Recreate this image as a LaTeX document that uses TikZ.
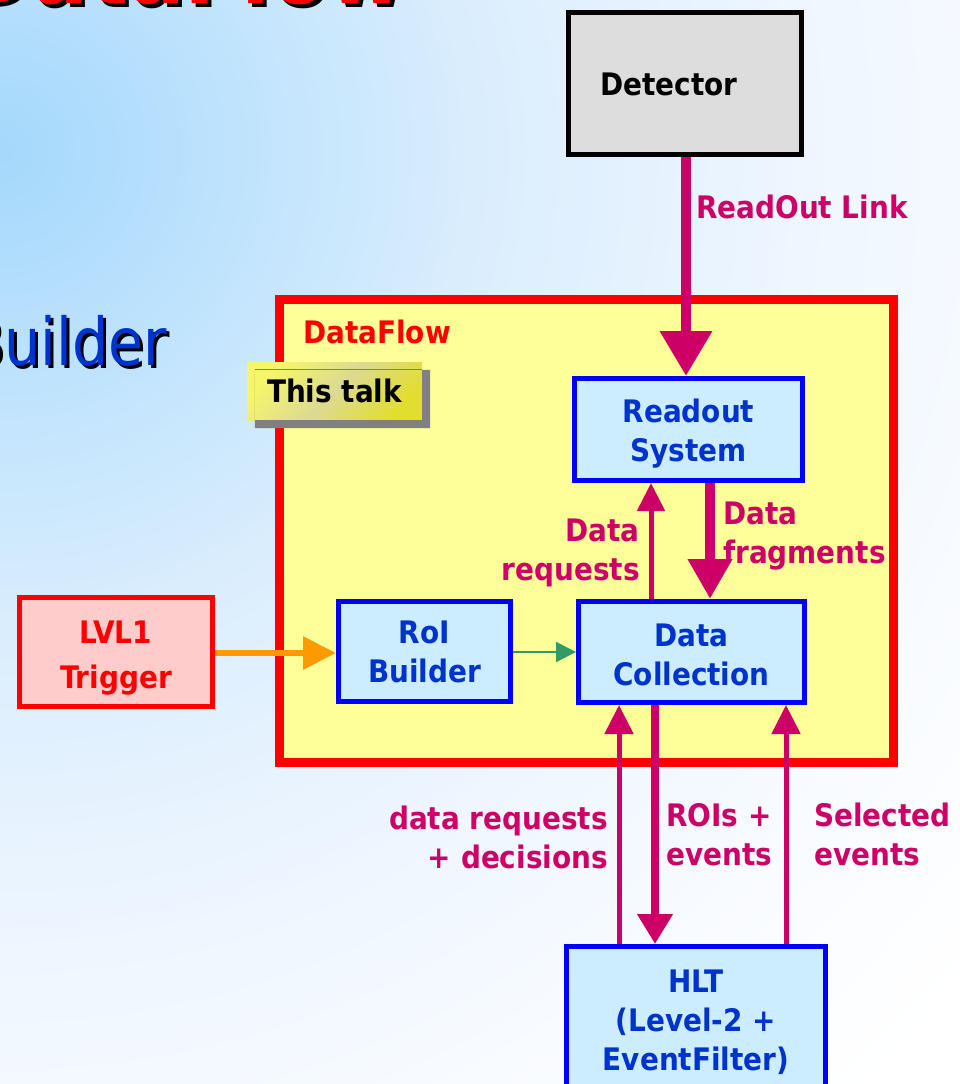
\documentclass[tikz,border=0pt]{standalone}
\usepackage{fontspec}
\usetikzlibrary{arrows.meta}
\newfontfamily\lab{DejaVu Sans Condensed Bold}
\newfontfamily\reg{DejaVu Sans Condensed}

\definecolor{flowmag}{HTML}{CC0066}
\definecolor{boxblue}{HTML}{0000FF}
\definecolor{textblue}{HTML}{0033CC}
\definecolor{boxfill}{HTML}{CCECFF}
\definecolor{framered}{HTML}{FF0000}
\definecolor{framefill}{HTML}{FFFF99}
\definecolor{trigfill}{HTML}{FFCCCC}
\definecolor{arrorange}{HTML}{FF9900}
\definecolor{arrgreen}{HTML}{339966}
\definecolor{detfill}{HTML}{DDDDDD}
\definecolor{shadowgray}{HTML}{808080}
\definecolor{talkA}{HTML}{F6F66A}
\definecolor{talkB}{HTML}{DCDA92}
\definecolor{talkC}{HTML}{E2DE2E}
\definecolor{bgA}{HTML}{A4D8FC}
\definecolor{bgB}{HTML}{C6E6FD}
\definecolor{bgC}{HTML}{DCEEFD}
\definecolor{bgD}{HTML}{EEF6FF}
\definecolor{bgE}{HTML}{F8FBFF}

% soft sky-blue glow spreading from the upper left corner
% (25bp is mapped onto the half-width of the shaded square)
\pgfdeclareradialshading{bgglow}{\pgfpoint{0bp}{0bp}}{%
  color(0bp)=(bgA); color(7.5bp)=(bgB); color(12.5bp)=(bgC);
  color(20bp)=(bgD); color(26bp)=(bgE); color(32bp)=(white);
  color(50bp)=(white)}

% invisible extra height on a first line, to lower a text block
\newcommand{\lowerby}[1]{\rule{0pt}{#1}}

\tikzset{
  lbl/.style={font=\lab\fontsize{31}{39}\selectfont, inner sep=0pt},
  flowlbl/.style={lbl, text=flowmag},
  box/.style={lbl, draw=boxblue, fill=boxfill, line width=5pt,
    text=textblue, align=center},
  fat/.style={draw=flowmag, line width=10pt,
    -{Triangle[length=45pt,width=50pt]}},
  fatmid/.style={draw=flowmag, line width=8pt,
    -{Triangle[length=30pt,width=34pt]}},
  slim/.style={draw=flowmag, line width=5pt,
    -{Triangle[length=29pt,width=28pt]}},
}

\begin{document}
\begin{tikzpicture}[x=1pt, y=-1pt]
\useasboundingbox (0,0) rectangle (960,1084);
\clip (0,0) rectangle (960,1084);

% background
\fill[white] (0,0) rectangle (960,1084);
\shade[shading=bgglow] (-1000,-850) rectangle (1000,1150);

% slide title and heading text running off the page
\node[anchor=base west, inner sep=0, text=black,
  font=\lab\fontsize{93}{93}\selectfont] (titleshadow) at (-34,8) {DataFlow};
\node[anchor=base west, inner sep=0, text=framered,
  font=\lab\fontsize{93}{93}\selectfont] (title) at (-38,4) {DataFlow};
\node[anchor=base east, inner sep=0, text=black] (buildershadow) at (170,368)
  {\reg\fontsize{66}{66}\selectfont\scalebox{0.96}[1]{Builder}};
\node[anchor=base east, inner sep=0, text=textblue] (builder) at (167,365)
  {\reg\fontsize{66}{66}\selectfont\scalebox{0.96}[1]{Builder}};

% DataFlow frame
\node[draw=framered, fill=framefill, line width=9pt, inner sep=0,
  minimum width=614pt, minimum height=463pt] (df) at (586,530.5) {};
\node[flowlbl, text=framered, anchor=base west] (dflabel) at (303,343) {DataFlow};

% detector
\node[draw=black, fill=detfill, line width=5pt, inner sep=0,
  minimum width=233pt, minimum height=142pt] (det) at (685,83.5) {};
\node[lbl, anchor=base west] (detlabel) at (600,95) {Detector};

% components
\node[box, minimum width=228pt, minimum height=102pt] (ros) at (688.5,429.5)
  {\lowerby{32pt}Readout\\System};
\node[box, minimum width=226pt, minimum height=101pt] (dc) at (691.5,652)
  {\lowerby{28pt}Data\\Collection};
\node[box, minimum width=172pt, minimum height=100pt] (roi) at (424.5,651.5)
  {RoI\\Builder};
\node[box, draw=framered, fill=trigfill, text=framered,
  font=\lab\fontsize{31}{45}\selectfont,
  minimum width=193pt, minimum height=109pt] (lvl1) at (116,652)
  {\lowerby{35pt}LVL1\\Trigger};
\node[box, minimum width=259pt, minimum height=151pt] (hlt) at (696,1022)
  {HLT\\(Level-2 +\\EventFilter)};

% connectors
\draw[fat] (det.south -| 686,0) -- (ros.north -| 686,0);
\draw[slim, -{Triangle[length=28pt,width=27pt]}] (dc.north -| 651,0) -- (ros.south -| 651,0);
\draw[fat, -{Triangle[length=40pt,width=42pt]}] (ros.south -| 710,0) -- (dc.north -| 710,0);
\draw[arrorange, line width=6pt, -{Triangle[length=33pt,width=32pt]}]
  (lvl1.east |- 0,653) -- (roi.west |- 0,653);
\draw[arrgreen, line width=2pt, -{Triangle[length=20pt,width=20pt]}]
  (roi.east |- 0,652) -- (dc.west |- 0,652);
\draw[slim] (hlt.north -| 619,0) -- (dc.south -| 619,0);
\draw[fatmid] (dc.south -| 655,0) -- (hlt.north -| 655,0);
\draw[slim] (hlt.north -| 786,0) -- (dc.south -| 786,0);

% connector labels (multi-line labels are placed by their last baseline)
\node[flowlbl, anchor=base west] (linklbl) at (696,218) {ReadOut Link};
\node[flowlbl, anchor=base east, align=right] (reqlbl) at (640,580) {Data\\requests};
\node[flowlbl, anchor=base west, align=left] (fraglbl) at (723,563) {Data\\fragments};
\node[flowlbl, anchor=base east, align=right] (declbl) at (608,868) {data requests\\+ decisions};
\node[flowlbl, anchor=base west, align=left] (roislbl) at (666,865) {ROIs +\\events};
\node[flowlbl, anchor=base west, align=left] (sellbl) at (814,865) {Selected\\events};

% "This talk" tag with its drop shadow
\node[lbl, text=black, minimum width=175pt, minimum height=58pt,
  top color=talkA, bottom color=talkC, middle color=talkB, shading angle=45]
  (talk) at (334.5,391) {This talk};
\begin{scope}
  \clip ([shift={(8,8)}]talk.north west) rectangle ([shift={(8,8)}]talk.south east);
  \fill[shadowgray, even odd rule]
    ([shift={(8,8)}]talk.north west) rectangle ([shift={(8,8)}]talk.south east)
    (talk.north west) rectangle (talk.south east);
\end{scope}
\end{tikzpicture}
\end{document}
